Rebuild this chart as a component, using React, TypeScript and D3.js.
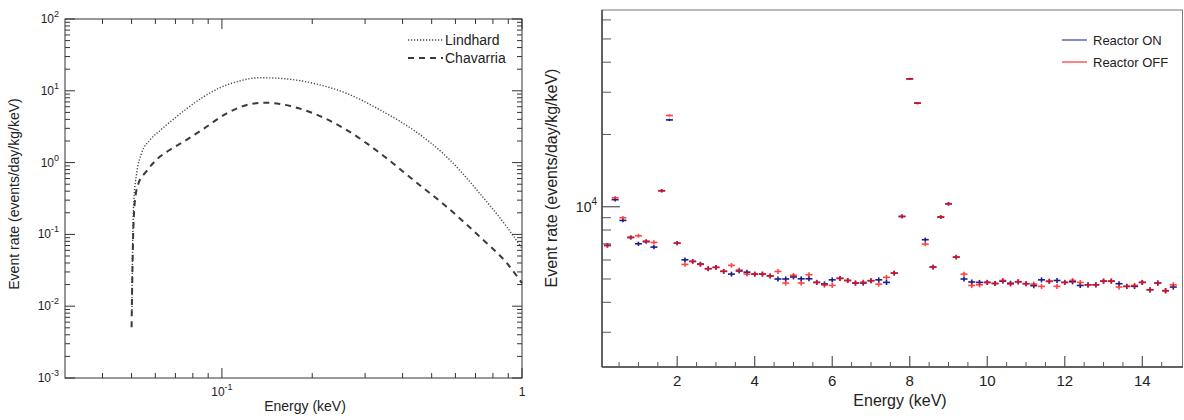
import React from 'react';
import * as d3 from 'd3';

// ---------- Left panel data (log-log) ----------
const lindhardEnergy = [0.0501, 0.0504, 0.0509, 0.052, 0.054, 0.0576, 0.0622, 0.0689, 0.0762, 0.0867, 0.0984, 0.1115, 0.134, 0.1561, 0.2017, 0.2608, 0.3367, 0.4349, 0.5604, 0.7228, 0.889, 1.0];
const lindhardRate = [0.008, 0.067, 0.3, 0.71, 1.35, 2.07, 2.8, 4.0, 5.6, 8.2, 11.0, 13.3, 15.2, 14.9, 12.7, 9.2, 5.4, 2.84, 1.21, 0.373, 0.128, 0.064];
const chavarriaEnergy = [0.05, 0.0504, 0.0512, 0.0526, 0.0561, 0.0604, 0.067, 0.0762, 0.0889, 0.1038, 0.121, 0.1376, 0.156, 0.2017, 0.2608, 0.3367, 0.4349, 0.5604, 0.7228, 0.889, 1.0];
const chavarriaRate = [0.0051, 0.044, 0.27, 0.5, 0.76, 1.09, 1.5, 2.07, 3.16, 4.86, 6.34, 6.84, 6.55, 4.86, 2.84, 1.35, 0.57, 0.243, 0.093, 0.04, 0.021];
const leftYTickExp = [2, 1, 0, -1, -2, -3];

// ---------- Right panel data ----------
const binEnergy = [0.2, 0.4, 0.6, 0.8, 1.0, 1.2, 1.4, 1.6, 1.8, 2.0, 2.2, 2.4, 2.6, 2.8, 3.0, 3.2, 3.4, 3.6, 3.8, 4.0, 4.2, 4.4, 4.6, 4.8, 5.0, 5.2, 5.4, 5.6, 5.8, 6.0, 6.2, 6.4, 6.6, 6.8, 7.0, 7.2, 7.4, 7.6, 7.8, 8.0, 8.2, 8.4, 8.6, 8.8, 9.0, 9.2, 9.4, 9.6, 9.8, 10.0, 10.2, 10.4, 10.6, 10.8, 11.0, 11.2, 11.4, 11.6, 11.8, 12.0, 12.2, 12.4, 12.6, 12.8, 13.0, 13.2, 13.4, 13.6, 13.8, 14.0, 14.2, 14.4, 14.6, 14.8];
const reactorOn = [6900, 10700, 8770, 7450, 7010, 7150, 6790, 11660, 23000, 7050, 6010, 5920, 5770, 5520, 5590, 5380, 5240, 5400, 5340, 5240, 5240, 5150, 5000, 5000, 5100, 5010, 5010, 4840, 4770, 4960, 5030, 4930, 4810, 4810, 4920, 4960, 4840, 5290, 9110, 34100, 27000, 7290, 5610, 9060, 10290, 6170, 5000, 4860, 4840, 4840, 4790, 4900, 4800, 4870, 4780, 4690, 4960, 4890, 4930, 4840, 4870, 4700, 4730, 4730, 4900, 4900, 4780, 4660, 4660, 4840, 4510, 4810, 4470, 4630];
const reactorOff = [6900, 10900, 9000, 7450, 7570, 7200, 7100, 11660, 24000, 7050, 5750, 5920, 5750, 5520, 5590, 5390, 5700, 5450, 5240, 5240, 5240, 5150, 5375, 4810, 5180, 4810, 5210, 4840, 4720, 4700, 5030, 4930, 4810, 4850, 4920, 4760, 5080, 5290, 9110, 34100, 27000, 6990, 5610, 9060, 10290, 6170, 5240, 4700, 4730, 4840, 4790, 4930, 4760, 4870, 4780, 4760, 4660, 4890, 4660, 4840, 4930, 4840, 4730, 4730, 4900, 4900, 4630, 4660, 4700, 4840, 4510, 4810, 4470, 4730];
const rightXTicks = [2, 4, 6, 8, 10, 12, 14];

const FONT = "'Liberation Sans', Arial, Helvetica, sans-serif";
const TXT = '#222';

function LeftPanel() {
  const L = 65, R = 522, T = 19, B = 378;
  const x = d3.scaleLog().domain([0.03, 1]).range([L, R]);
  const y = d3.scaleLog().domain([1e-3, 1e2]).range([B, T]);
  const line = d3.line<[number, number]>().x(d => x(d[0])).y(d => y(d[1])).curve(d3.curveMonotoneX);
  const lin = line(lindhardEnergy.map((e, i) => [e, lindhardRate[i]]) as [number, number][]) || '';
  const cha = line(chavarriaEnergy.map((e, i) => [e, chavarriaRate[i]]) as [number, number][]) || '';

  const xMinor = [0.04, 0.05, 0.06, 0.07, 0.08, 0.09, 0.2, 0.3, 0.4, 0.5, 0.6, 0.7, 0.8, 0.9];
  const xMajor = [0.1, 1];
  const yMinor: number[] = [];
  for (let e = -3; e < 2; e++) for (let k = 2; k <= 9; k++) yMinor.push(k * Math.pow(10, e));
  const yMajor = leftYTickExp.map(e => Math.pow(10, e));
  const stroke = '#333';
  const ticks: JSX.Element[] = [];
  xMinor.forEach((v, i) => {
    const px = x(v);
    ticks.push(<line key={'xm' + i} x1={px} x2={px} y1={B} y2={B - 5} stroke={stroke} />);
    ticks.push(<line key={'xmt' + i} x1={px} x2={px} y1={T} y2={T + 5} stroke={stroke} />);
  });
  xMajor.forEach((v, i) => {
    const px = x(v);
    ticks.push(<line key={'xM' + i} x1={px} x2={px} y1={B} y2={B - 10} stroke={stroke} />);
    ticks.push(<line key={'xMt' + i} x1={px} x2={px} y1={T} y2={T + 10} stroke={stroke} />);
  });
  yMinor.forEach((v, i) => {
    const py = y(v);
    ticks.push(<line key={'ym' + i} x1={L} x2={L + 5} y1={py} y2={py} stroke={stroke} />);
    ticks.push(<line key={'ymr' + i} x1={R} x2={R - 5} y1={py} y2={py} stroke={stroke} />);
  });
  yMajor.forEach((v, i) => {
    const py = y(v);
    ticks.push(<line key={'yM' + i} x1={L} x2={L + 10} y1={py} y2={py} stroke={stroke} />);
    ticks.push(<line key={'yMr' + i} x1={R} x2={R - 10} y1={py} y2={py} stroke={stroke} />);
  });

  return (
    <g fontFamily={FONT} fill={TXT}>
      <path d={lin} fill="none" stroke="#444" strokeWidth={1.4} strokeDasharray="1.2,1.8" />
      <path d={cha} fill="none" stroke="#3a3a3a" strokeWidth={2} strokeDasharray="6,5" />
      <rect x={L} y={T} width={R - L} height={B - T} fill="none" stroke={stroke} strokeWidth={1} />
      {ticks}
      {leftYTickExp.map(e => (
        <text key={'yl' + e} x={L - 6} y={y(Math.pow(10, e)) + 4} textAnchor="end" fontSize={12}>
          10<tspan dy={-6} fontSize={9}>{e}</tspan>
        </text>
      ))}
      <text x={x(0.1)} y={396} textAnchor="middle" fontSize={12}>
        10<tspan dy={-6} fontSize={9}>-1</tspan>
      </text>
      <text x={x(1)} y={396} textAnchor="middle" fontSize={12}>1</text>
      <text x={305} y={411} textAnchor="middle" fontSize={14}>Energy (keV)</text>
      <text transform="translate(19,194) rotate(-90)" textAnchor="middle" fontSize={14}>Event rate (events/day/kg/keV)</text>
      <line x1={408} x2={443} y1={40} y2={40} stroke="#444" strokeWidth={1.4} strokeDasharray="1.2,1.8" />
      <line x1={408} x2={443} y1={58} y2={58} stroke="#3a3a3a" strokeWidth={2} strokeDasharray="6,5" />
      <text x={445} y={45} fontSize={14}>Lindhard</text>
      <text x={445} y={63} fontSize={14}>Chavarria</text>
    </g>
  );
}

function RightPanel() {
  const L = 602, R = 1183, T = 10, B = 367;
  const x = d3.scaleLinear().domain([0.06, 15.05]).range([L, R]);
  const y = d3.scaleLog().domain([2150, 66000]).range([B, T]);
  const halfBin = 0.09;
  const relErr = (v: number) => 0.024 * Math.sqrt(5000 / v);
  const stroke = '#555';

  const xMinor: number[] = [];
  for (let k = 1; k <= 29; k++) if (k % 4 !== 0) xMinor.push(k * 0.5);
  const yMinor = [3000, 4000, 5000, 6000, 7000, 8000, 9000, 20000, 30000, 40000, 50000, 60000];

  const drawSeries = (vals: number[], color: string, opacity: number, keyP: string) =>
    vals.map((v, i) => {
      const e = binEnergy[i];
      const px = x(e);
      const py = y(v);
      const err = relErr(v);
      return (
        <g key={keyP + i} stroke={color} strokeWidth={1.6} opacity={opacity}>
          <line x1={x(e - halfBin)} x2={x(e + halfBin)} y1={py} y2={py} />
          <line x1={px} x2={px} y1={y(v * (1 - err))} y2={y(v * (1 + err))} />
        </g>
      );
    });

  return (
    <g fontFamily={FONT} fill={TXT}>
      <rect x={L} y={T} width={R - L - 0.5} height={B - T} fill="none" stroke="#777" strokeWidth={1} />
      <line x1={L} x2={L} y1={T} y2={B} stroke="#444" strokeWidth={1.5} />
      <line x1={L} x2={R} y1={B} y2={B} stroke="#444" strokeWidth={1.5} />
      {xMinor.map((v, i) => (
        <line key={'rxm' + i} x1={x(v)} x2={x(v)} y1={B} y2={B - 5} stroke={stroke} />
      ))}
      {rightXTicks.map((v, i) => (
        <line key={'rxM' + i} x1={x(v)} x2={x(v)} y1={B} y2={B - 11} stroke={stroke} strokeWidth={1.2} />
      ))}
      {yMinor.map((v, i) => (
        <line key={'rym' + i} x1={L} x2={L + 9} y1={y(v)} y2={y(v)} stroke={stroke} />
      ))}
      <line x1={L} x2={L + 18} y1={y(10000)} y2={y(10000)} stroke={stroke} strokeWidth={1.2} />
      {drawSeries(reactorOn, '#1c1c8a', 1, 'on')}
      {drawSeries(reactorOff, '#ff1010', 0.78, 'off')}
      {rightXTicks.map(v => (
        <text key={'rxl' + v} x={x(v)} y={386} textAnchor="middle" fontSize={15}>{v}</text>
      ))}
      <text x={L - 5} y={y(10000) + 5} textAnchor="end" fontSize={14}>
        10<tspan dy={-7} fontSize={10}>4</tspan>
      </text>
      <text x={900} y={406} textAnchor="middle" fontSize={16}>Energy (keV)</text>
      <text transform="translate(557,178) rotate(-90)" textAnchor="middle" fontSize={16}>Event rate (events/day/kg/keV)</text>
      <line x1={1062} x2={1087} y1={40} y2={40} stroke="#3a3aa0" strokeWidth={1.2} />
      <line x1={1062} x2={1087} y1={62} y2={62} stroke="#ff3030" strokeWidth={1.2} />
      <text x={1093} y={45} fontSize={13}>Reactor ON</text>
      <text x={1093} y={67} fontSize={13}>Reactor OFF</text>
    </g>
  );
}

export default function App() {
  return (
    <svg width={1184} height={420} style={{ position: 'absolute', left: 0, top: 0, background: '#fff' }}>
      <rect width={1184} height={420} fill="#fff" />
      <LeftPanel />
      <RightPanel />
    </svg>
  );
}
